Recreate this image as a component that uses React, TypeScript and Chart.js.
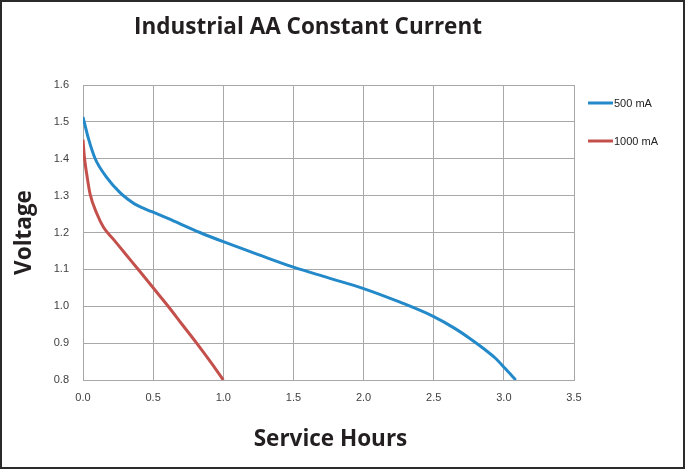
import React, { useEffect, useRef } from "react";
import { Chart, registerables } from "chart.js";

Chart.register(...registerables);

const chartTitle = "Industrial AA Constant Current";
const xAxisTitle = "Service Hours";
const yAxisTitle = "Voltage";
const seriesLabels = ["500 mA", "1000 mA"];
const seriesColors = ["#2389c9", "#c4504c"];

const hours500 = [0, 0.04, 0.087, 0.17, 0.264, 0.32, 0.37, 0.43, 0.487, 0.605, 0.833, 1.0, 1.25, 1.5, 1.75, 2.0, 2.26, 2.5, 2.65, 2.76, 2.86, 2.94, 3.01, 3.085];
const volts500 = [1.513, 1.453, 1.4, 1.349, 1.308, 1.29, 1.277, 1.266, 1.257, 1.238, 1.2, 1.175, 1.14, 1.106, 1.077, 1.048, 1.011, 0.972, 0.94, 0.912, 0.884, 0.859, 0.831, 0.8];

const hours1000 = [0, 0.01, 0.03, 0.05, 0.1, 0.146, 0.216, 0.3, 0.4, 0.5, 0.607, 0.7, 0.81, 0.917, 1.0];
const volts1000 = [1.452, 1.404, 1.35, 1.305, 1.25, 1.214, 1.182, 1.143, 1.097, 1.05, 1.0, 0.954, 0.9, 0.845, 0.8];

const xMin = 0;
const xMax = 3.5;
const xStep = 0.5;
const yMin = 0.8;
const yMax = 1.6;
const yStep = 0.1;

const toPoints = (xs: number[], ys: number[]) => xs.map((x, i) => ({ x, y: ys[i] }));

const decorPlugin = {
  id: "decor",
  beforeDraw(chart: any) {
    const ctx = chart.ctx;
    ctx.save();
    ctx.fillStyle = "#ffffff";
    ctx.fillRect(0, 0, chart.width, chart.height);
    ctx.restore();
  },
  afterDraw(chart: any) {
    const ctx = chart.ctx;
    const area = chart.chartArea;
    ctx.save();
    // title
    ctx.fillStyle = "#231f20";
    ctx.textAlign = "center";
    ctx.textBaseline = "middle";
    ctx.font = "bold 22.5px 'Open Sans'";
    ctx.fillText(chartTitle, 308, 28);
    // x axis title
    ctx.fillText(xAxisTitle, (area.left + area.right) / 2 + 2, 440);
    // y axis title
    ctx.save();
    ctx.translate(25, (area.top + area.bottom) / 2);
    ctx.rotate(-Math.PI / 2);
    ctx.fillText(yAxisTitle, 0, 0);
    ctx.restore();
    // legend
    const lx = area.right + 14;
    const ys = [103, 141];
    chart.data.datasets.forEach((ds: any, i: number) => {
      ctx.strokeStyle = ds.borderColor;
      ctx.lineWidth = 3;
      ctx.beginPath();
      ctx.moveTo(lx, ys[i]);
      ctx.lineTo(lx + 25, ys[i]);
      ctx.stroke();
      ctx.fillStyle = "#222222";
      ctx.textAlign = "left";
      ctx.font = "11px 'Liberation Sans'";
      ctx.fillText(ds.label, lx + 26, ys[i] + 0.5);
    });
    // frame
    ctx.strokeStyle = "#2a2a2a";
    ctx.lineWidth = 2;
    ctx.strokeRect(1, 1, chart.width - 2, chart.height - 2);
    ctx.restore();
  },
};

export default function App() {
  const canvasRef = useRef<HTMLCanvasElement | null>(null);

  useEffect(() => {
    if (!canvasRef.current) return;
    const gridColor = "#a8a8a8";
    const tickFont = { family: "'Liberation Sans', Arial, sans-serif", size: 11 };
    const chart = new Chart(canvasRef.current, {
      type: "line",
      data: {
        datasets: [
          {
            label: seriesLabels[0],
            data: toPoints(hours500, volts500),
            borderColor: seriesColors[0],
            borderWidth: 3,
            pointRadius: 0,
            cubicInterpolationMode: "monotone",
            fill: false,
          },
          {
            label: seriesLabels[1],
            data: toPoints(hours1000, volts1000),
            borderColor: seriesColors[1],
            borderWidth: 3,
            pointRadius: 0,
            cubicInterpolationMode: "monotone",
            fill: false,
          },
        ],
      },
      options: {
        responsive: false,
        animation: false,
        devicePixelRatio: 1,
        layout: { padding: { top: 85, right: 111, left: 0, bottom: 0 } },
        plugins: {
          legend: { display: false },
          title: { display: false },
          tooltip: { enabled: false },
        },
        scales: {
          x: {
            type: "linear",
            min: xMin,
            max: xMax,
            afterFit: (scale: any) => {
              scale.height = 89;
            },
            ticks: {
              stepSize: xStep,
              padding: 11,
              color: "#404040",
              font: tickFont,
              maxRotation: 0,
              callback: (v: any) => Number(v).toFixed(1),
            },
            grid: { color: gridColor, lineWidth: 1, drawTicks: false },
            border: { color: gridColor, width: 1 },
          },
          y: {
            type: "linear",
            min: yMin,
            max: yMax,
            afterFit: (scale: any) => {
              scale.width = 83;
            },
            ticks: {
              stepSize: yStep,
              padding: 14,
              color: "#404040",
              font: tickFont,
              callback: (v: any) => Number(v).toFixed(1),
            },
            grid: { color: gridColor, lineWidth: 1, drawTicks: false },
            border: { color: gridColor, width: 1 },
          },
        },
      } as any,
      plugins: [decorPlugin],
    });
    return () => chart.destroy();
  }, []);

  return (
    <div style={{ position: "absolute", left: 0, top: 0, width: 685, height: 469 }}>
      <canvas ref={canvasRef} width={685} height={469} style={{ display: "block" }} />
    </div>
  );
}
